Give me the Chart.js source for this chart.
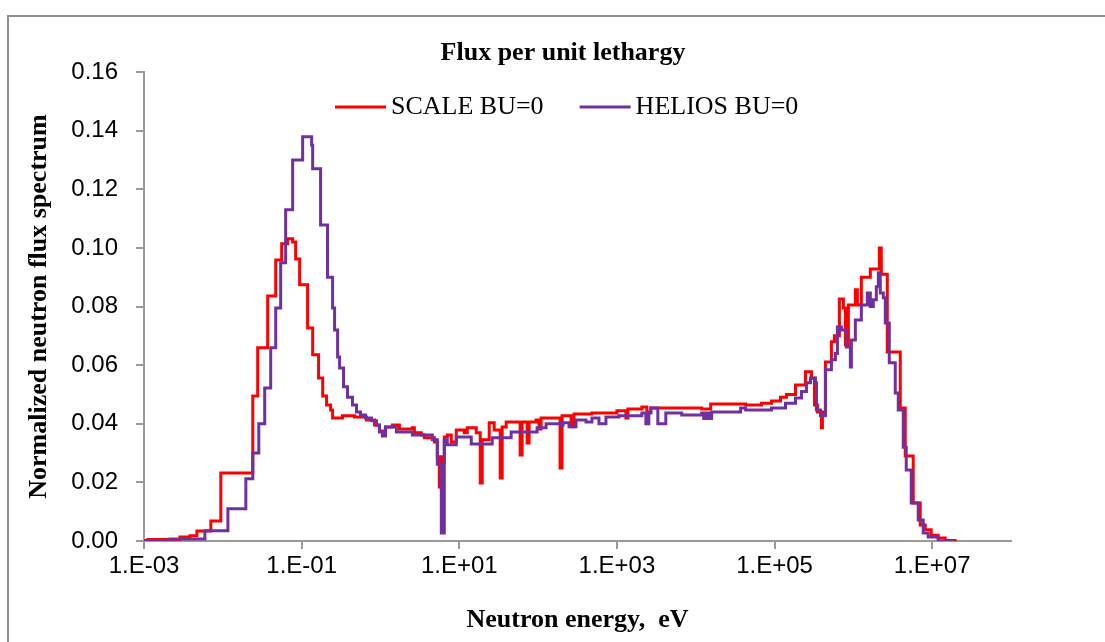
<!DOCTYPE html>
<html><head><meta charset="utf-8">
<script src="https://cdn.jsdelivr.net/npm/chart.js@4.4.0/dist/chart.umd.min.js"></script>
<style>
html,body{margin:0;padding:0;background:#fff;}
#wrap{position:relative;width:1105px;height:642px;overflow:hidden;background:#fff;}
#frame{position:absolute;left:7px;top:15px;width:1110px;height:640px;border-top:2px solid #8f8f8f;border-left:2px solid #8f8f8f;}
canvas{position:absolute;left:0;top:0;}
</style></head><body>
<div id="wrap"><div id="frame"></div><canvas id="c" width="1105" height="642"></canvas></div>
<script>
const titleText = 'Flux per unit lethargy';
const xTitle = 'Neutron energy,  eV';
const yTitle = 'Normalized neutron flux spectrum';
const seriesNames = ['SCALE BU=0', 'HELIOS BU=0'];
const xTickValues = [1e-3, 1e-1, 1e1, 1e3, 1e5, 1e7];
const xTickLabels = ['1.E-03', '1.E-01', '1.E+01', '1.E+03', '1.E+05', '1.E+07'];

// SCALE: group lower energy (eV) and flux per unit lethargy (step starts at energy)
const scaleEnergy = [1e-3, 1.12e-3, 2.86e-3, 3.82e-3, 4.69e-3, 7.05e-3, 9.43e-3, 2.40e-2, 2.77e-2, 3.71e-2,
  4.69e-2, 5.58e-2, 6.65e-2, 7.69e-2, 8.40e-2, 9.43e-2, 0.119, 0.138, 0.164, 0.185,
  0.207, 0.233, 0.247, 0.330, 0.469, 0.665, 0.840, 0.971, 1.060, 1.157,
  1.419, 1.740, 2.541, 2.694, 3.304, 3.606, 4.826, 5.266, 5.583, 5.748,
  5.918, 6.457, 7.049, 7.918, 9.162, 11.57, 12.63, 16.41, 18.45, 19.55,
  23.98, 27.73, 33.04, 35.03, 39.35, 59.18, 62.73, 72.59, 76.93, 94.34,
  103.0, 109.1, 189.9, 201.3, 261.7, 285.6, 482.6, 1000, 1300, 1378,
  2073, 2398, 2694, 11910, 15480, 42950, 68440, 91620, 119100, 141900,
  184500, 246900, 294000, 320900, 350300, 393500, 405200, 442100, 526600, 574800,
  664800, 747100, 791800, 864400, 1.060e6, 1.124e6, 1.263e6, 1.641e6, 2.134e6, 2.262e6,
  2.694e6, 3.935e6, 4.551e6, 5.748e6, 7.049e6, 8.155e6, 9.712e6, 1.191e7, 1.461e7, 1.955e7];
const scaleFlux = [0.0002, 0.0005, 0.0014, 0.0018, 0.0034, 0.0068, 0.0232, 0.0495, 0.0659, 0.0836,
  0.0959, 0.1014, 0.1031, 0.1020, 0.0962, 0.0874, 0.0727, 0.0635, 0.0556, 0.0495,
  0.0464, 0.0447, 0.0420, 0.0427, 0.0423, 0.0413, 0.0396, 0.0375, 0.0358, 0.0389,
  0.0396, 0.0382, 0.0386, 0.0369, 0.0362, 0.0352, 0.0338, 0.0287, 0.0184, 0.0287,
  0.0266, 0.0355, 0.0362, 0.0338, 0.0379, 0.0369, 0.0386, 0.0369, 0.0198, 0.0345,
  0.0403, 0.0379, 0.0215, 0.0389, 0.0406, 0.0293, 0.0406, 0.0334, 0.0406, 0.0413,
  0.0382, 0.0420, 0.0249, 0.0427, 0.0390, 0.0433, 0.0437, 0.0444, 0.0420, 0.0450,
  0.0457, 0.0440, 0.0454, 0.0450, 0.0467, 0.0464, 0.0470, 0.0478, 0.0490, 0.0500,
  0.0532, 0.0577, 0.0555, 0.0464, 0.0440, 0.0386, 0.0440, 0.0611, 0.0680, 0.0700,
  0.0826, 0.0795, 0.0669, 0.0805, 0.0857, 0.0805, 0.0900, 0.0928, 0.1000, 0.0910,
  0.0645, 0.0454, 0.0290, 0.0130, 0.0055, 0.0038, 0.0020, 0.0010, 0.0002, 0.0];

// HELIOS
const heliosEnergy = [1e-3, 2.13e-3, 5.92e-3, 1.16e-2, 1.96e-2, 2.40e-2, 2.86e-2, 3.40e-2, 4.05e-2, 4.69e-2,
  5.42e-2, 6.27e-2, 7.69e-2, 0.103, 0.134, 0.138, 0.174, 0.213, 0.247, 0.262,
  0.286, 0.303, 0.340, 0.382, 0.442, 0.497, 0.558, 0.646, 0.769, 0.890,
  0.971, 1.060, 1.157, 1.594, 2.541, 4.551, 5.266, 5.918, 6.457, 7.049,
  9.162, 14.19, 26.17, 45.51, 97.12, 126.3, 195.5, 207.3, 246.9, 302.7,
  405.2, 482.6, 591.8, 725.9, 1060, 2073, 2329, 2541, 2694, 3304,
  4172, 6648, 11910, 12630, 13780, 14610, 15940, 37120, 42950, 91620,
  137800, 184500, 219600, 254100, 285600, 330400, 340100, 382300, 442100, 526600,
  591800, 627300, 704900, 815500, 916200, 943400, 1.060e6, 1.263e6, 1.504e6, 1.641e6,
  1.791e6, 1.955e6, 2.073e6, 2.196e6, 2.398e6, 2.541e6, 2.856e6, 3.401e6, 3.712e6, 4.295e6,
  4.688e6, 5.423e6, 6.648e6, 7.693e6, 8.899e6, 1.191e7, 1.845e7];
const heliosFlux = [0.0000, 0.0007, 0.0035, 0.0110, 0.0212, 0.0300, 0.0400, 0.0522, 0.0659, 0.0795,
  0.0949, 0.1130, 0.1300, 0.1379, 0.1350, 0.1270, 0.1078, 0.0900, 0.0795, 0.0720,
  0.0628, 0.0590, 0.0526, 0.0490, 0.0464, 0.0440, 0.0430, 0.0420, 0.0410, 0.0395,
  0.0372, 0.0360, 0.0389, 0.0372, 0.0362, 0.0345, 0.0262, 0.0027, 0.0345, 0.0328,
  0.0355, 0.0331, 0.0352, 0.0372, 0.0386, 0.0400, 0.0395, 0.0403, 0.0390, 0.0413,
  0.0406, 0.0420, 0.0400, 0.0423, 0.0427, 0.0437, 0.0400, 0.0437, 0.0454, 0.0400,
  0.0437, 0.0430, 0.0437, 0.0418, 0.0437, 0.0418, 0.0440, 0.0454, 0.0447, 0.0454,
  0.0470, 0.0488, 0.0510, 0.0540, 0.0556, 0.0540, 0.0447, 0.0427, 0.0584, 0.0618,
  0.0640, 0.0730, 0.0720, 0.0662, 0.0594, 0.0686, 0.0754, 0.0805, 0.0846, 0.0800,
  0.0823, 0.0867, 0.0915, 0.0846, 0.0830, 0.0744, 0.0608, 0.0505, 0.0447, 0.0320,
  0.0242, 0.0130, 0.0072, 0.0027, 0.0014, 0.0000, 0.0];

const serif = '"Liberation Serif", "Times New Roman", serif';
const sans = '"Liberation Sans", Arial, sans-serif';
const axisGrey = '#9a9a9a';

function toPoints(xs, ys) { return xs.map((x, i) => ({ x: x, y: ys[i] })); }

// chart title (centred as in the reference) and legend drawn inside the plot area
const headerAndLegend = {
  id: 'headerAndLegend',
  afterDatasetsDraw(chart) {
    const ctx = chart.ctx;
    ctx.save();
    ctx.fillStyle = '#000';
    ctx.textBaseline = 'middle';
    ctx.textAlign = 'center';
    ctx.font = 'bold 26px ' + serif;
    ctx.fillText(titleText, 563, 53);
    ctx.font = '26px ' + serif;
    ctx.textAlign = 'left';
    let x = 335; const y = 107;
    chart.data.datasets.forEach(ds => {
      ctx.strokeStyle = ds.borderColor; ctx.lineWidth = 3;
      ctx.beginPath(); ctx.moveTo(x, y); ctx.lineTo(x + 51, y); ctx.stroke();
      x += 56;
      ctx.fillText(ds.label, x, y);
      x += ctx.measureText(ds.label).width + 36;
    });
    ctx.restore();
  }
};

new Chart(document.getElementById('c'), {
  type: 'line',
  data: {
    datasets: [
      { label: seriesNames[0], data: toPoints(scaleEnergy, scaleFlux), borderColor: '#FF0000', backgroundColor: '#FF0000',
        borderWidth: 3, stepped: true, pointRadius: 0, fill: false, order: 1 },
      { label: seriesNames[1], data: toPoints(heliosEnergy, heliosFlux), borderColor: '#7030A0', backgroundColor: '#7030A0',
        borderWidth: 3, stepped: true, pointRadius: 0, fill: false, order: 0 }
    ]
  },
  options: {
    responsive: false, animation: false, devicePixelRatio: 1,
    layout: { padding: { left: 0, right: 94, top: 72, bottom: 0 } },
    plugins: {
      legend: { display: false },
      tooltip: { enabled: false },
      title: { display: false, text: titleText }
    },
    scales: {
      x: {
        type: 'logarithmic', min: 1e-3, max: 1e8,
        afterBuildTicks: s => { s.ticks = xTickValues.map(v => ({ value: v })); },
        afterFit: s => { s.height = 101; },
        ticks: { callback: (v, i) => xTickLabels[i], font: { family: sans, size: 24 }, color: '#000',
          maxRotation: 0, minRotation: 0, autoSkip: false, padding: 3 },
        grid: { display: true, drawOnChartArea: false, drawTicks: true, tickLength: 8, color: axisGrey, lineWidth: 2 },
        border: { display: true, color: axisGrey, width: 2 },
        title: { display: true, text: xTitle, color: '#000', font: { family: serif, size: 26, weight: 'bold' },
          padding: { top: 0, bottom: 6 } }
      },
      y: {
        min: 0, max: 0.16,
        afterFit: s => { s.width = 144; },
        ticks: { stepSize: 0.02, callback: v => Number(v).toFixed(2), font: { family: sans, size: 24 }, color: '#000', padding: 18 },
        grid: { display: true, drawOnChartArea: false, drawTicks: true, tickLength: 8, color: axisGrey, lineWidth: 2 },
        border: { display: true, color: axisGrey, width: 2 },
        title: { display: true, text: yTitle, color: '#000', font: { family: serif, size: 26, weight: 'bold' },
          padding: { top: 24, bottom: 0 } }
      }
    }
  },
  plugins: [headerAndLegend]
});
</script>
</body></html>
